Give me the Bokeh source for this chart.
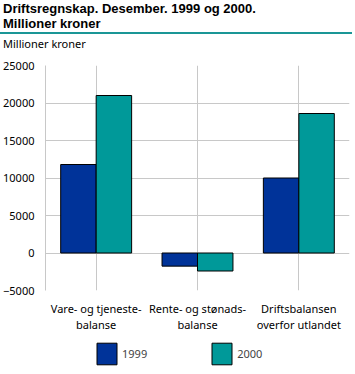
from bokeh.plotting import figure
from bokeh.models import (ColumnDataSource, FactorRange, Range1d, FixedTicker, Legend,
                          LegendItem, Div)
from bokeh.layouts import column
from bokeh.transform import dodge
from bokeh.embed import file_html
from bokeh.resources import INLINE

categories = ["Vare- og tjeneste-\nbalanse", "Rente- og stønads-\nbalanse",
              "Driftsbalansen\noverfor utlandet"]
values_1999 = [11800, -1750, 10000]
values_2000 = [21000, -2400, 18600]
y_ticks = [-5000, 0, 5000, 10000, 15000, 20000, 25000]
series_names = ["1999", "2000"]

title_line1 = "Driftsregnskap. Desember. 1999 og 2000."
title_line2 = "Millioner kroner"
unit_label = "Millioner kroner"

C1999 = "#003399"
C2000 = "#009999"
TEAL = "#1a9696"
GRID = "#c8c8c8"
FONT = "Noto Sans"
W = 352

head = Div(width=W, height=57, text=(
    f"<div style=\"font-family:'Liberation Sans';font-weight:bold;font-size:13px;"
    f"line-height:15px;color:black;padding:1px 0 0 3px\">{title_line1}<br>{title_line2}</div>"
    f"<div style=\"border-top:2px solid {TEAL};margin-top:1px;width:{W}px\"></div>"
    f"<div style=\"font-family:'{FONT}';font-size:11px;line-height:14px;margin-top:3px;"
    f"padding-left:3px;color:black\">{unit_label}</div>"),
    styles={"margin": "0", "padding": "0"})

src = ColumnDataSource(dict(cat=categories, v1999=values_1999, v2000=values_2000))

p = figure(width=W, height=8 + 233 + 36, x_range=FactorRange(*categories),
           y_range=Range1d(y_ticks[0], y_ticks[-1]),
           output_backend="svg", toolbar_location=None,
           min_border_left=40, min_border_right=3, min_border_top=8, min_border_bottom=36)
p.outline_line_color = None

r1 = p.vbar(x=dodge("cat", -0.175, range=p.x_range), top="v1999", width=0.35, source=src,
            fill_color=C1999, line_color="black", line_width=1)
r2 = p.vbar(x=dodge("cat", 0.175, range=p.x_range), top="v2000", width=0.35, source=src,
            fill_color=C2000, line_color="black", line_width=1)

p.yaxis.ticker = FixedTicker(ticks=y_ticks)
p.yaxis.axis_line_color = GRID
p.yaxis.major_tick_line_color = None
p.yaxis.minor_tick_line_color = None
p.yaxis.major_label_standoff = 5
p.yaxis.major_label_text_font = FONT
p.yaxis.major_label_text_font_size = "11px"
p.yaxis.major_label_text_color = "black"

p.xaxis.axis_line_color = None
p.xaxis.major_tick_line_color = None
p.xaxis.major_label_standoff = 4
p.xaxis.major_label_text_font = FONT
p.xaxis.major_label_text_font_size = "11px"
p.xaxis.major_label_text_color = "black"
p.xaxis.major_label_text_line_height = 1.07

p.xgrid.grid_line_color = GRID
p.ygrid.grid_line_color = GRID
p.ygrid.ticker = FixedTicker(ticks=y_ticks)

# separate strip for the legend (bars fall outside its y range, only the legend shows)
lf = figure(width=W, height=36, x_range=FactorRange(*categories), y_range=Range1d(1e7, 2e7),
            output_backend="svg", toolbar_location=None, x_axis_type=None, y_axis_type=None,
            min_border=0)
lf.outline_line_color = None
lf.grid.visible = False
lr1 = lf.vbar(x="cat", top="v1999", width=0.35, source=src,
              fill_color=C1999, line_color="black", line_width=1)
lr2 = lf.vbar(x="cat", top="v2000", width=0.35, source=src,
              fill_color=C2000, line_color="black", line_width=1)
legend = Legend(items=[LegendItem(label=series_names[0], renderers=[lr1]),
                       LegendItem(label=series_names[1], renderers=[lr2])],
                orientation="horizontal", location=(49, 3),
                glyph_width=25, glyph_height=27, label_standoff=3, label_width=0,
                spacing=62, padding=0, margin=0, border_line_color=None,
                background_fill_alpha=0, label_text_font=FONT, label_text_align="left",
                label_text_font_size="11px", label_text_baseline="bottom")
lf.add_layout(legend, "center")

foot = Div(width=W, height=4, text=f"<div style=\"height:2px;margin-top:2px;background:{TEAL};width:{W}px\"></div>",
           styles={"margin": "0"})

open("out.html", "w").write(file_html(column(head, p, lf, foot), INLINE))
